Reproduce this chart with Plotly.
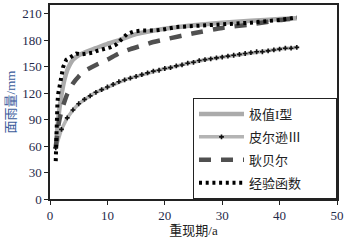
import plotly.graph_objects as go

# Return periods (years) and rainfall (mm)
gumbel_T = [1.0, 1.5, 2.0, 2.5, 3.0, 3.5, 4.0, 5.0, 6.0, 8.0, 10.0, 12.0, 15.0, 20.0, 25.0, 30.0, 35.0, 40.0, 43.0]
gumbel_P = [58, 95, 118, 135, 146, 153, 158, 163, 166, 171, 176, 180, 187, 193, 197, 200, 202, 204, 205]

pearson_T = list(range(1, 44))
pearson_P = [58, 79, 92, 101, 108, 113, 117, 121, 124, 127, 130, 133, 135, 137, 139, 141,
             143, 145, 146, 148, 149, 151, 152, 154, 155, 157, 158, 159, 160, 161, 162, 163,
             164, 165, 166, 167, 167, 168, 169, 170, 171, 171, 172]

gengbeier_T = [1.0, 1.5, 2.0, 3.0, 4.0, 5.0, 6.0, 8.0, 10.0, 12.0, 14.0, 16.0, 18.0, 20.0, 25.0, 30.0, 35.0, 40.0, 43.0]
gengbeier_P = [58, 85, 100, 119, 131, 139, 145, 152, 158, 165, 170, 174, 178, 181, 188, 194, 198, 203, 205]

emp_T = [1.0, 1.05, 1.1, 1.2, 1.3, 1.45, 1.7, 2.0, 2.3, 2.85, 3.7, 4.6, 5.5, 6.5, 7.5, 8.2, 9.3,
         10.5, 11.5, 12.5, 13.4, 14.6, 16.0, 18.0, 19.5, 22.0, 25.0, 29.7, 31.5, 35.0, 40.0, 43.0]
emp_P = [43, 60, 75, 95, 110, 120, 128, 139, 150, 158, 162, 165, 164, 165, 166, 168, 170,
         172, 175, 182, 187, 190, 191, 191, 192, 195, 196, 197.5, 198, 200, 203, 206]

names = ["极值I型", "皮尔逊Ⅲ", "耿贝尔", "经验函数"]
x_ticks = [0, 10, 20, 30, 40, 50]
y_ticks = [0, 30, 60, 90, 120, 150, 180, 210]

font_family = "Liberation Serif, Times New Roman, Noto Sans CJK SC, serif"
pad = "\u00a0" * 9

fig = go.Figure()
fig.add_trace(go.Scatter(x=gumbel_T, y=gumbel_P, mode="lines", name=names[0],
                         line=dict(color="#ababab", width=4.5, shape="spline", smoothing=0.6),
                         legendgroup="a"))
fig.add_trace(go.Scatter(x=pearson_T, y=pearson_P, mode="lines+markers", name=names[1],
                         line=dict(color="#b4b4b4", width=3.5),
                         marker=dict(symbol="cross", size=4, color="#111111"),
                         legendgroup="b"))
fig.add_trace(go.Scatter(x=gengbeier_T, y=gengbeier_P, mode="lines", name=names[2],
                         line=dict(color="#505050", width=4.5, dash="12px,10px", shape="spline", smoothing=0.6),
                         legendgroup="c"))
fig.add_trace(go.Scatter(x=emp_T, y=emp_P, mode="lines", name=names[3] + pad,
                         line=dict(color="#000000", width=4, dash="3px,3.7px"),
                         legendgroup="d"))

axis_common = dict(showgrid=False, zeroline=False, showline=True, linecolor="#222222",
                   linewidth=1.5, mirror=True, ticks="outside", ticklen=4, tickwidth=1,
                   tickcolor="#222222",
                   tickfont=dict(family=font_family, size=13, color="#1f2a4a"))

fig.update_xaxes(range=[0, 50], tickvals=x_ticks, **axis_common,
                 title=dict(text="重现期/a", font=dict(family=font_family, size=13, color="#222222"),
                            standoff=4))
fig.update_yaxes(range=[0, 220], tickvals=y_ticks, **axis_common,
                 title=dict(text="面雨量/mm", font=dict(family=font_family, size=13, color="#3b5b9b"),
                            standoff=4))

fig.update_layout(
    width=351, height=240,
    margin=dict(l=50, r=14, t=5, b=41, autoexpand=False),
    plot_bgcolor="white", paper_bgcolor="white",
    legend=dict(x=1, y=0, xanchor="right", yanchor="bottom",
                bordercolor="#222222", borderwidth=1, bgcolor="white",
                font=dict(family=font_family, size=13, color="#222222"),
                traceorder="grouped", tracegroupgap=3, itemwidth=45),
    showlegend=True,
)

fig.write_html("out.html", config={"displayModeBar": False},
               post_script="document.body.style.margin='0';document.body.style.overflow='hidden';")
